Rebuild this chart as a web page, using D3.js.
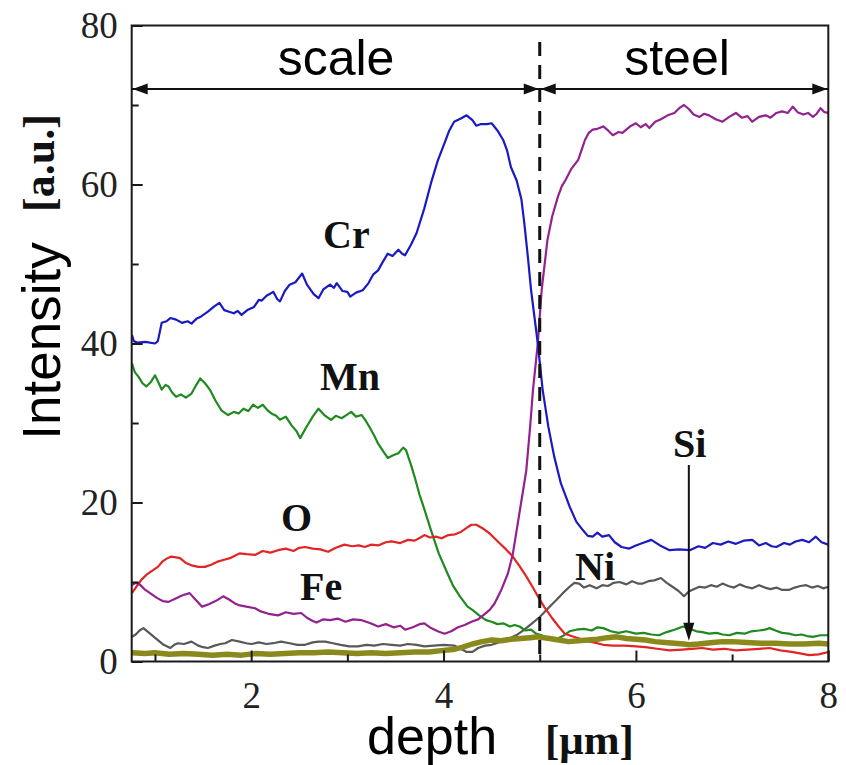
<!DOCTYPE html>
<html>
<head>
<meta charset="utf-8">
<script src="https://cdn.jsdelivr.net/npm/d3@7"></script>
<style>
  html, body { margin: 0; padding: 0; background: #ffffff; }
  svg { display: block; }
</style>
</head>
<body>
<svg id="chart" width="846" height="765"></svg>
<script>
// Depth profiles [depth µm, intensity a.u.] for each element
const cr = [[0.76,41.1],[0.78,40.3],[0.82,40.1],[0.9,40.2],[1.0,40.0],[1.03,40.3],[1.07,42.6],[1.12,42.8],[1.16,43.2],[1.22,43.0],[1.28,42.6],[1.34,42.8],[1.38,42.5],[1.43,43.1],[1.48,43.4],[1.55,44.0],[1.62,44.7],[1.67,45.1],[1.72,44.2],[1.77,44.0],[1.82,43.8],[1.86,44.1],[1.9,43.6],[1.96,44.2],[2.03,44.6],[2.08,45.5],[2.11,45.4],[2.16,46.0],[2.23,46.5],[2.27,45.6],[2.3,45.3],[2.35,46.6],[2.40,47.4],[2.46,47.7],[2.53,48.8],[2.58,47.4],[2.65,46.2],[2.70,45.7],[2.75,46.8],[2.82,47.4],[2.86,47.0],[2.89,47.6],[2.95,46.6],[3.0,46.5],[3.03,45.9],[3.09,46.4],[3.16,46.7],[3.22,47.6],[3.27,48.7],[3.32,49.2],[3.37,50.3],[3.42,51.3],[3.47,51.0],[3.53,51.8],[3.57,51.3],[3.60,51.1],[3.66,52.4],[3.72,53.9],[3.80,57.0],[3.87,60.2],[3.94,63.0],[4.01,65.2],[4.06,66.8],[4.11,67.9],[4.18,68.3],[4.24,68.7],[4.30,68.1],[4.34,67.4],[4.39,67.6],[4.45,67.6],[4.50,67.7],[4.56,66.8],[4.62,65.6],[4.66,64.3],[4.70,62.2],[4.76,60.5],[4.81,58.1],[4.84,55.1],[4.88,50.5],[4.91,46.7],[4.98,40.0],[5.03,34.2],[5.09,29.5],[5.15,25.8],[5.22,22.4],[5.31,19.5],[5.38,17.6],[5.45,16.5],[5.50,15.8],[5.55,15.7],[5.60,16.2],[5.65,15.7],[5.72,15.9],[5.78,15.0],[5.85,14.4],[5.93,14.2],[6.0,14.6],[6.07,14.9],[6.16,15.3],[6.25,14.6],[6.35,14.0],[6.45,14.1],[6.56,14.0],[6.65,14.5],[6.72,14.3],[6.80,14.9],[6.88,14.7],[6.96,15.1],[7.04,14.8],[7.12,15.2],[7.21,15.3],[7.28,14.6],[7.35,14.9],[7.41,14.5],[7.46,14.4],[7.54,14.9],[7.60,14.7],[7.66,15.1],[7.73,15.3],[7.80,15.0],[7.87,15.7],[7.93,15.0],[8.0,14.7]];

const fe = [[0.76,9.6],[0.80,9.9],[0.84,9.7],[0.9,9.0],[0.96,8.5],[1.02,8.0],[1.08,7.6],[1.14,7.5],[1.21,7.9],[1.28,8.3],[1.36,8.6],[1.42,7.8],[1.49,6.9],[1.56,7.2],[1.63,7.6],[1.71,8.2],[1.77,7.8],[1.83,7.3],[1.87,7.1],[1.95,6.9],[2.04,6.7],[2.1,6.3],[2.18,6.0],[2.28,5.8],[2.36,6.2],[2.44,6.0],[2.52,6.1],[2.58,5.5],[2.64,5.1],[2.68,4.9],[2.75,5.3],[2.82,5.2],[2.90,5.4],[2.98,5.0],[3.06,5.3],[3.15,5.2],[3.24,4.8],[3.32,4.4],[3.40,4.7],[3.48,4.3],[3.55,4.5],[3.60,4.0],[3.68,4.3],[3.75,4.7],[3.80,4.8],[3.87,4.2],[3.94,3.8],[4.01,3.5],[4.08,3.8],[4.15,4.3],[4.22,4.6],[4.29,5.0],[4.36,5.3],[4.43,6.0],[4.48,6.5],[4.53,7.3],[4.60,9.0],[4.67,11.1],[4.72,13.5],[4.76,16.5],[4.80,19.5],[4.86,24.0],[4.90,29.5],[4.93,34.2],[4.98,40.0],[5.02,46.7],[5.08,53.0],[5.13,56.0],[5.19,58.5],[5.23,59.8],[5.27,60.6],[5.33,62.0],[5.40,63.1],[5.44,64.5],[5.47,65.6],[5.51,66.5],[5.55,66.9],[5.60,67.0],[5.66,67.3],[5.71,66.8],[5.76,66.2],[5.82,66.6],[5.86,66.5],[5.90,66.9],[5.95,67.4],[6.00,67.7],[6.05,67.2],[6.10,67.6],[6.14,67.1],[6.20,67.9],[6.26,68.2],[6.33,68.7],[6.40,69.0],[6.45,69.6],[6.50,70.0],[6.55,69.5],[6.60,68.8],[6.66,68.5],[6.71,68.9],[6.76,68.7],[6.83,68.2],[6.90,67.9],[6.97,68.5],[7.04,69.0],[7.10,68.4],[7.16,68.6],[7.21,67.9],[7.28,68.5],[7.35,68.7],[7.40,68.4],[7.46,69.0],[7.52,69.2],[7.58,69.0],[7.63,69.8],[7.68,69.1],[7.74,68.8],[7.79,69.0],[7.84,68.5],[7.88,68.9],[7.92,69.6],[7.96,69.1],[8.0,69.0]];

const mn = [[0.76,37.5],[0.79,36.4],[0.83,35.8],[0.87,35.0],[0.91,34.6],[0.96,35.2],[1.0,36.0],[1.04,35.0],[1.07,34.2],[1.11,34.8],[1.14,34.6],[1.18,33.8],[1.22,33.3],[1.27,33.6],[1.32,33.2],[1.38,33.7],[1.43,34.8],[1.47,35.6],[1.52,35.0],[1.57,34.2],[1.63,32.8],[1.69,31.6],[1.76,31.0],[1.82,31.4],[1.87,31.2],[1.92,31.8],[1.97,31.5],[2.02,32.3],[2.07,31.9],[2.12,32.3],[2.17,31.6],[2.21,31.2],[2.26,30.9],[2.30,30.4],[2.36,30.8],[2.42,29.7],[2.47,29.0],[2.51,28.1],[2.57,29.4],[2.64,30.8],[2.70,31.8],[2.76,31.0],[2.83,30.4],[2.88,30.9],[2.94,30.6],[2.99,31.0],[3.04,31.4],[3.09,30.8],[3.15,31.0],[3.19,30.3],[3.23,29.5],[3.28,28.4],[3.32,27.4],[3.37,26.5],[3.42,25.6],[3.47,25.9],[3.53,26.2],[3.58,26.9],[3.61,26.6],[3.66,24.8],[3.70,23.2],[3.75,21.0],[3.81,18.8],[3.87,16.5],[3.95,13.6],[4.04,11.1],[4.10,9.5],[4.17,8.2],[4.25,6.9],[4.30,6.5],[4.37,5.8],[4.44,5.2],[4.50,5.0],[4.56,4.7],[4.62,4.8],[4.69,4.4],[4.74,4.6],[4.79,4.4],[4.85,3.9],[4.91,4.0],[4.96,3.5],[5.02,3.3],[5.10,2.9],[5.17,2.8],[5.24,3.2],[5.31,3.8],[5.38,4.0],[5.46,4.1],[5.54,3.9],[5.60,4.3],[5.66,4.2],[5.74,3.8],[5.82,3.6],[5.90,3.8],[6.00,3.5],[6.08,3.6],[6.16,3.4],[6.24,3.3],[6.32,3.7],[6.40,4.0],[6.49,4.4],[6.56,4.1],[6.63,3.8],[6.69,3.7],[6.76,3.5],[6.84,3.6],[6.90,3.4],[6.97,3.3],[7.05,3.6],[7.13,3.5],[7.20,3.8],[7.28,3.9],[7.34,4.0],[7.39,4.2],[7.45,3.9],[7.52,3.6],[7.59,3.5],[7.66,3.3],[7.72,3.4],[7.78,3.2],[7.84,3.1],[7.92,3.3],[8.0,3.3]];

const ox = [[0.76,8.6],[0.80,9.3],[0.86,10.3],[0.92,11.0],[0.98,11.5],[1.03,11.9],[1.08,12.6],[1.13,13.0],[1.17,13.2],[1.22,13.1],[1.26,13.0],[1.32,12.4],[1.38,12.1],[1.45,11.9],[1.52,11.9],[1.59,12.2],[1.66,12.6],[1.72,12.8],[1.78,13.0],[1.83,13.3],[1.88,13.6],[1.95,13.5],[2.04,13.4],[2.12,13.9],[2.20,13.7],[2.28,14.0],[2.36,14.2],[2.44,13.9],[2.50,14.3],[2.56,14.4],[2.64,14.2],[2.72,14.1],[2.80,13.8],[2.88,14.3],[2.97,14.7],[3.05,14.5],[3.12,14.6],[3.18,14.4],[3.25,14.7],[3.32,14.6],[3.40,15.0],[3.46,15.1],[3.55,14.9],[3.63,15.3],[3.70,15.2],[3.76,15.6],[3.80,15.9],[3.86,15.6],[3.92,15.7],[3.98,15.5],[4.05,15.9],[4.12,16.0],[4.18,16.3],[4.24,16.8],[4.29,17.2],[4.34,17.2],[4.40,16.8],[4.48,16.1],[4.53,15.5],[4.58,14.9],[4.65,14.1],[4.72,13.2],[4.79,12.0],[4.86,10.7],[4.92,9.5],[4.98,8.2],[5.05,6.8],[5.12,5.6],[5.19,4.5],[5.26,3.5],[5.33,3.2],[5.41,2.9],[5.48,2.6],[5.56,2.4],[5.66,2.1],[5.76,2.0],[5.88,2.0],[6.00,1.9],[6.10,1.8],[6.22,1.6],[6.35,1.4],[6.48,1.5],[6.58,1.6],[6.69,1.7],[6.80,1.5],[6.92,1.6],[7.04,1.4],[7.16,1.5],[7.28,1.6],[7.39,1.7],[7.50,1.4],[7.62,1.2],[7.72,1.0],[7.80,0.8],[7.90,0.9],[8.0,1.2]];

const ni = [[0.76,3.1],[0.80,3.4],[0.84,3.9],[0.88,4.2],[0.93,3.7],[0.98,3.2],[1.03,2.7],[1.09,2.1],[1.16,1.7],[1.20,2.1],[1.24,2.3],[1.30,2.2],[1.38,2.5],[1.45,2.0],[1.50,1.8],[1.55,1.7],[1.62,2.0],[1.68,2.2],[1.73,2.3],[1.80,2.7],[1.88,2.5],[1.95,2.3],[2.00,2.2],[2.08,2.4],[2.16,2.2],[2.23,2.3],[2.31,2.5],[2.40,2.3],[2.48,2.1],[2.56,2.1],[2.64,2.4],[2.70,2.5],[2.77,2.5],[2.85,2.3],[2.93,2.1],[3.02,1.9],[3.11,1.9],[3.20,2.1],[3.28,2.0],[3.37,2.2],[3.46,2.1],[3.55,2.0],[3.63,2.2],[3.72,2.1],[3.80,1.9],[3.90,2.0],[4.00,2.1],[4.11,2.0],[4.18,1.6],[4.24,1.2],[4.30,1.2],[4.36,1.7],[4.43,2.0],[4.50,2.1],[4.55,2.3],[4.62,2.6],[4.70,3.0],[4.77,3.4],[4.84,4.0],[4.92,4.8],[5.00,5.6],[5.08,6.6],[5.17,7.7],[5.24,8.6],[5.31,9.4],[5.36,9.9],[5.41,9.8],[5.46,9.3],[5.52,9.6],[5.59,9.2],[5.65,9.6],[5.71,9.5],[5.77,9.9],[5.83,10.0],[5.90,9.7],[5.96,10.1],[6.02,9.8],[6.07,9.8],[6.13,10.1],[6.19,10.2],[6.26,10.5],[6.32,9.9],[6.38,9.4],[6.44,8.9],[6.50,8.2],[6.55,8.8],[6.60,9.1],[6.66,9.4],[6.72,9.3],[6.78,9.6],[6.84,9.4],[6.90,9.8],[6.96,9.5],[7.02,9.3],[7.08,9.7],[7.14,9.4],[7.21,9.2],[7.28,9.6],[7.34,9.3],[7.40,9.1],[7.46,9.3],[7.52,9.0],[7.59,9.0],[7.65,9.3],[7.71,9.5],[7.77,9.6],[7.83,9.3],[7.89,9.5],[7.95,9.2],[8.0,9.4]];

const si = [[0.76,1.1],[0.9,1.0],[1.0,1.1],[1.15,0.9],[1.3,1.0],[1.45,0.9],[1.6,0.8],[1.75,0.9],[1.9,0.8],[2.05,1.0],[2.2,0.9],[2.35,1.0],[2.5,1.1],[2.65,1.1],[2.8,1.2],[2.95,1.1],[3.1,1.0],[3.25,1.1],[3.4,1.0],[3.55,1.1],[3.7,1.2],[3.85,1.2],[4.0,1.4],[4.1,1.5],[4.2,1.8],[4.3,2.2],[4.4,2.5],[4.5,2.7],[4.6,2.6],[4.7,2.8],[4.8,2.9],[4.9,3.0],[4.98,3.1],[5.1,2.9],[5.2,2.7],[5.3,2.5],[5.4,2.6],[5.5,2.7],[5.6,2.8],[5.7,3.0],[5.8,3.1],[5.9,2.9],[6.0,2.8],[6.1,2.7],[6.2,2.5],[6.3,2.4],[6.4,2.3],[6.5,2.2],[6.55,2.1],[6.65,2.2],[6.8,2.4],[6.9,2.5],[7.0,2.5],[7.15,2.4],[7.3,2.3],[7.45,2.3],[7.6,2.2],[7.75,2.2],[7.9,2.3],[8.0,2.2]];

// Axis ticks
const xMajorTicks = [2, 4, 6, 8];
const xMinorTicks = [1, 3, 5, 7];
const yMajorTicks = [0, 20, 40, 60, 80];
const yMinorTicks = [10, 30, 50, 70];

// Element labels and the scale/steel boundary
const interfaceDepth = 5;
const siArrowDepth = 6.55;
const siArrowValue = 2.1;
const labels = [
  { text: "Cr", x: 323, y: 248 },
  { text: "Mn", x: 320, y: 390 },
  { text: "O",  x: 281, y: 531 },
  { text: "Fe", x: 300, y: 600 },
  { text: "Ni", x: 575, y: 580 },
  { text: "Si", x: 673, y: 457 }
];

const svg = d3.select("#chart");
const plotLeft = 131.7, plotRight = 828.3, plotTop = 25.5, plotBottom = 661.5;

const x = d3.scaleLinear().domain([0.758, 8]).range([plotLeft, plotRight]);
const y = d3.scaleLinear().domain([0, 80]).range([plotBottom, plotTop]);

svg.append("defs").append("clipPath").attr("id", "plot-clip")
  .append("rect").attr("x", plotLeft).attr("y", plotTop)
  .attr("width", plotRight - plotLeft).attr("height", plotBottom - plotTop);

const serif = "'Liberation Serif', 'Times New Roman', serif";
const sans = "'Liberation Sans', Arial, sans-serif";

// Series lines
const line = d3.line().x(d => x(d[0])).y(d => y(d[1]));
const series = [
  { data: ni, color: "#585858", width: 2.2 },
  { data: mn, color: "#1f8a1f", width: 2.2 },
  { data: ox, color: "#e22424", width: 2.2 },
  { data: si, color: "#8a8a1c", width: 5.5 },
  { data: fe, color: "#93218f", width: 2.2 },
  { data: cr, color: "#1a1ac2", width: 2.2 }
];
const plot = svg.append("g").attr("clip-path", "url(#plot-clip)");
series.forEach(s => {
  plot.append("path").datum(s.data)
    .attr("d", line)
    .attr("fill", "none")
    .attr("stroke", s.color)
    .attr("stroke-width", s.width)
    .attr("stroke-linejoin", "round");
});

// Axes with inward ticks
const axisColor = "#1a1a1a";
function styleAxis(g) {
  g.select(".domain").remove();
  g.selectAll(".tick line").attr("stroke", axisColor).attr("stroke-width", 2);
  g.selectAll(".tick text").attr("fill", "#222").style("font-family", serif).style("font-size", "37px");
}
svg.append("g").attr("transform", `translate(0,${plotBottom})`)
  .call(d3.axisBottom(x).tickValues(xMajorTicks).tickSize(-11).tickPadding(20).tickFormat(d3.format("d")))
  .call(styleAxis);
svg.append("g").attr("transform", `translate(0,${plotBottom})`)
  .call(d3.axisBottom(x).tickValues(xMinorTicks).tickSize(-7).tickFormat(""))
  .call(styleAxis);
svg.append("g").attr("transform", `translate(${plotLeft},0)`)
  .call(d3.axisLeft(y).tickValues(yMajorTicks).tickSize(-11).tickPadding(14).tickFormat(d3.format("d")))
  .call(styleAxis);
svg.append("g").attr("transform", `translate(${plotLeft},0)`)
  .call(d3.axisLeft(y).tickValues(yMinorTicks).tickSize(-7).tickFormat(""))
  .call(styleAxis);

// Frame
svg.append("rect").attr("x", plotLeft).attr("y", plotTop)
  .attr("width", plotRight - plotLeft).attr("height", plotBottom - plotTop)
  .attr("fill", "none").attr("stroke", axisColor).attr("stroke-width", 2);

// Interface dashed line
const xi = x(interfaceDepth);
svg.append("line").attr("x1", xi).attr("x2", xi).attr("y1", 42).attr("y2", plotBottom)
  .attr("stroke", "#111").attr("stroke-width", 3).attr("stroke-dasharray", "14,9");

// Double-headed region arrows
const arrowY = 89;
function arrowHead(tipX, tipY, dir) {
  const len = 15, half = 5.5;
  return `M${tipX},${tipY} L${tipX - dir * len},${tipY - half} L${tipX - dir * len},${tipY + half} Z`;
}
svg.append("line").attr("x1", plotLeft).attr("x2", plotRight).attr("y1", arrowY).attr("y2", arrowY)
  .attr("stroke", "#111").attr("stroke-width", 2);
[[plotLeft + 1, -1], [xi - 1, 1], [xi + 1, -1], [plotRight - 1, 1]].forEach(([tx, dir]) => {
  svg.append("path").attr("d", arrowHead(tx, arrowY, dir)).attr("fill", "#111");
});

svg.append("text").attr("x", 336).attr("y", 75).attr("text-anchor", "middle")
  .style("font-family", sans).style("font-size", "50px").attr("fill", "#000").text("scale");
svg.append("text").attr("x", 677).attr("y", 75).attr("text-anchor", "middle")
  .style("font-family", sans).style("font-size", "50px").attr("fill", "#000").text("steel");

// Element labels
labels.forEach(l => {
  svg.append("text").attr("x", l.x).attr("y", l.y)
    .style("font-family", serif).style("font-weight", "bold").style("font-size", "40px")
    .attr("fill", "#111").text(l.text);
});

// Si pointer arrow
const xs = x(siArrowDepth);
const tipY = y(siArrowValue) - 4;
svg.append("line").attr("x1", xs).attr("x2", xs).attr("y1", 465).attr("y2", tipY - 14)
  .attr("stroke", "#111").attr("stroke-width", 2);
svg.append("path")
  .attr("d", `M${xs},${tipY} L${xs - 5.5},${tipY - 18} L${xs + 5.5},${tipY - 18} Z`)
  .attr("fill", "#111");

// Axis titles
svg.append("text").attr("transform", "translate(60,341) rotate(-90)").attr("text-anchor", "middle")
  .style("font-family", sans).style("font-size", "53px").attr("fill", "#000").text("Intensity");
svg.append("text").attr("transform", "translate(54,163) rotate(-90)").attr("text-anchor", "middle")
  .style("font-family", serif).style("font-weight", "bold").style("font-size", "44px").attr("fill", "#111").text("[a.u.]");
svg.append("text").attr("x", 367).attr("y", 754)
  .style("font-family", sans).style("font-size", "52px").attr("fill", "#000").text("depth");
svg.append("text").attr("x", 545).attr("y", 754)
  .style("font-family", serif).style("font-weight", "bold").style("font-size", "43px").attr("fill", "#111").text("[μm]");
</script>
</body>
</html>
